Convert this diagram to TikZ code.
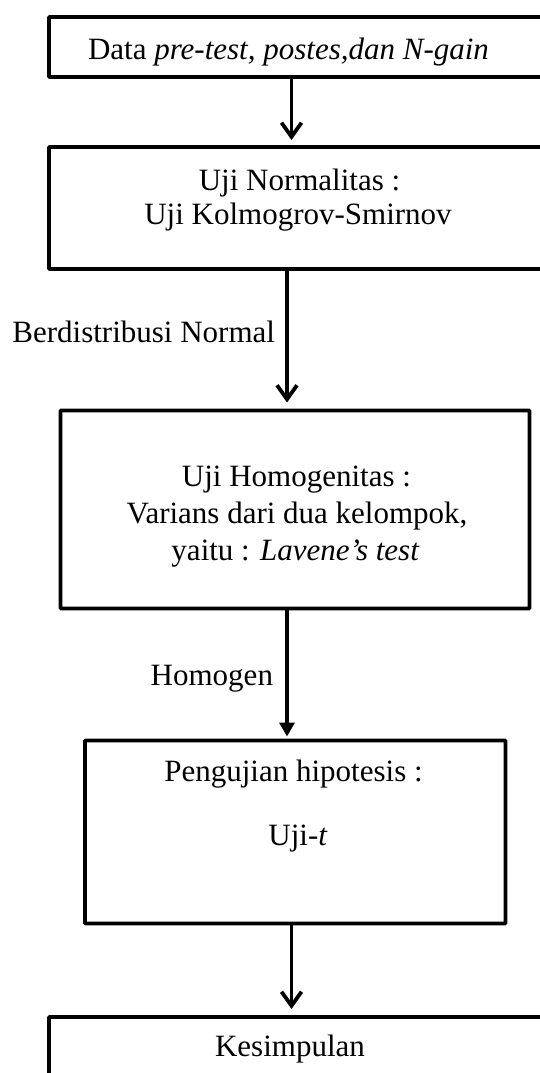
\documentclass[tikz,border=0pt]{standalone}
\usepackage{fontspec}
\setmainfont{Liberation Serif}
\usetikzlibrary{arrows.meta}
\tikzset{
  box/.style={draw, line width=3.8pt, rectangle, inner sep=0pt, outer sep=0pt, rounded corners=0.8pt},
  txt/.style={inner sep=0pt, outer sep=0pt, anchor=base, font=\fontsize{31}{36}\selectfont},
  lbl/.style={inner sep=0pt, outer sep=0pt, anchor=base east, font=\fontsize{31}{36}\selectfont},
  openarr/.style={line width=3.8pt, -{Straight Barb[length=14pt,width=20pt]}},
  filledarr/.style={line width=3.8pt, -{Triangle[length=14pt,width=15pt]}},
}
\begin{document}
\begin{tikzpicture}[x=1pt,y=-1pt]
\useasboundingbox (0,0) rectangle (539,1073);
% boxes
\node[box, minimum width=513pt, minimum height=60pt] (b1) at (305.5,47) {};
\node[box, minimum width=513pt, minimum height=122pt] (b2) at (305.5,208) {};
\node[box, minimum width=469pt, minimum height=198pt] (b3) at (295,509.5) {};
\node[box, minimum width=420.5pt, minimum height=183pt] (b4) at (295.25,832) {};
\node[box, minimum width=513pt, minimum height=100pt] (b5) at (305.5,1067) {};
% texts
\node[txt] (t1) at (288.5,59.5) {Data \textit{pre-test, postes,dan N-gain}};
\node[txt] (t2a) at (299.5,190) {Uji Normalitas :};
\node[txt] (t2b) at (298,224) {Uji Kolmogrov-Smirnov};
\node[txt] (t3a) at (296.5,486.7) {Uji Homogenitas :};
\node[txt] (t3b) at (297,523.3) {Varians dari dua kelompok,};
\node[txt] (t3c) at (295.5,560) {yaitu : \textit{Lavene’s test}};
\node[txt] (t4a) at (293.5,781.7) {Pengujian hipotesis :};
\node[txt] (t4b) at (298,845) {Uji-\textit{t}};
\node[txt] (t5) at (290,1056.7) {Kesimpulan};
% arrow x positions
\coordinate (x1) at (291.5,0);
\coordinate (x2) at (287,0);
\coordinate (x4) at (291.5,0);
% connectors
\draw[openarr, shorten >=7pt] (b1.south -| x1) -- (b2.north -| x1);
\draw[openarr, shorten >=8pt] (b2.south -| x2) -- (b3.north -| x2);
\draw[filledarr, shorten >=4pt] (b3.south -| x2) -- (b4.north -| x2);
\draw[openarr, shorten >=8pt] (b4.south -| x4) -- (b5.north -| x4);
% labels
\node[lbl] (l1) at (275,342.7) {Berdistribusi Normal};
\node[lbl] (l2) at (273,685) {Homogen};
\end{tikzpicture}
\end{document}
